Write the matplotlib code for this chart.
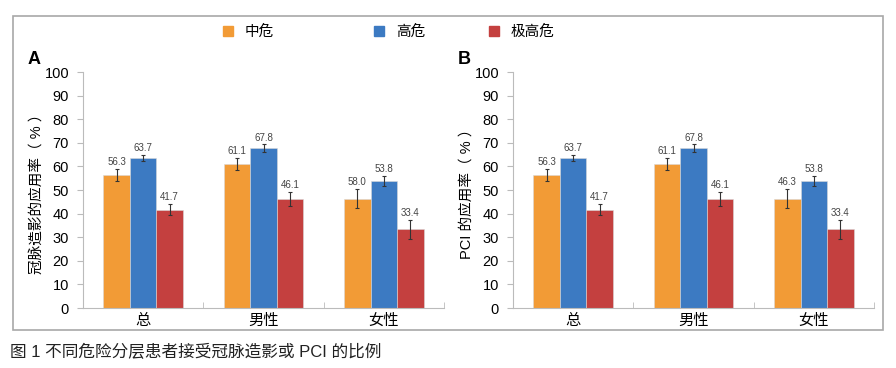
import numpy as np
import matplotlib
matplotlib.use("Agg")
import matplotlib.pyplot as plt
from matplotlib.patches import Rectangle

plt.rcParams['font.family'] = ['Liberation Sans', 'Noto Sans CJK SC', 'DejaVu Sans']

categories = ["总", "男性", "女性"]
series_names = ["中危", "高危", "极高危"]
colors = ["#F29B36", "#3C7AC2", "#C4403F"]

# values (%) per series, per category
values = [
    [56.3, 61.1, 46.3],
    [63.7, 67.8, 53.8],
    [41.7, 46.1, 33.4],
]
errors = [
    [2.5, 2.5, 4.0],
    [1.3, 1.5, 2.2],
    [2.4, 3.0, 4.0],
]
# printed labels as they appear in each panel
labels_a = [
    ["56.3", "61.1", "58.0"],
    ["63.7", "67.8", "53.8"],
    ["41.7", "46.1", "33.4"],
]
labels_b = [
    ["56.3", "61.1", "46.3"],
    ["63.7", "67.8", "53.8"],
    ["41.7", "46.1", "33.4"],
]

fig = plt.figure(figsize=(8.96, 3.68), dpi=100)

# outer frame
fig.patches.append(Rectangle((13 / 896, 1 - 330 / 368), 870 / 896, 314 / 368,
                             transform=fig.transFigure, fill=False,
                             edgecolor="#A8A8A8", linewidth=1.2))

panels = [
    (83 / 896, "A", "冠脉造影的应用率（ % ）", labels_a),
    (513 / 896, "B", "PCI 的应用率（ % ）", labels_b),
]

x = np.arange(len(categories))
width = 0.22

for left, letter, ylabel, labels in panels:
    ax = fig.add_axes([left, 60 / 368, 361 / 896, 236 / 368])
    for i in range(len(series_names)):
        pos = x + (i - 1) * width
        ax.bar(pos, values[i], width=width, color=colors[i], edgecolor="#d8d8d8",
               linewidth=0.4, zorder=2)
        ax.errorbar(pos, values[i], yerr=errors[i], fmt="none", ecolor="#333333",
                    elinewidth=0.8, capsize=1.5, capthick=0.8, zorder=3)
        for p, v, e, t in zip(pos, values[i], errors[i], labels[i]):
            ax.text(p, v + e + 0.8, t, ha="center", va="bottom", fontsize=7,
                    color="#444444")
    ax.set_xlim(-0.5, 2.5)
    ax.set_ylim(0, 100)
    ax.set_yticks(range(0, 101, 10))
    ax.set_xticks(x)
    ax.set_xticklabels(categories, fontsize=11)
    ax.set_xticks([-0.5, 0.5, 1.5, 2.5], minor=True)
    ax.tick_params(axis="x", which="major", length=0, pad=4)
    ax.tick_params(axis="x", which="minor", length=4, color="#BBBBBB", direction="in")
    ax.tick_params(axis="y", length=4, color="#BBBBBB", labelsize=10.5, pad=6)
    for s in ["top", "right"]:
        ax.spines[s].set_visible(False)
    for s in ["left", "bottom"]:
        ax.spines[s].set_color("#BBBBBB")
        ax.spines[s].set_linewidth(0.8)
    ax.set_ylabel(ylabel, fontsize=10.5, labelpad=1)
    fig.text(left - 55 / 896, 1 - 60 / 368, letter, fontsize=13, fontweight="bold",
             ha="left", va="center")

# legend entries placed individually
legend_x = [227 / 896, 378 / 896, 493 / 896]
for name, col, lx in zip(series_names, colors, legend_x):
    fig.legend(handles=[Rectangle((0, 0), 1, 1, color=col)], labels=[name],
               loc="center left", bbox_to_anchor=(lx - 4 / 896, 1 - 32 / 368),
               frameon=False, fontsize=10.5, handlelength=0.7, handleheight=0.7,
               handletextpad=0.8, borderpad=0, borderaxespad=0)

fig.text(10 / 896, 1 - 352 / 368, "图 1 不同危险分层患者接受冠脉造影或 PCI 的比例",
         fontsize=12, ha="left", va="center", color="#222222")

fig.savefig("out.png", dpi=100)
